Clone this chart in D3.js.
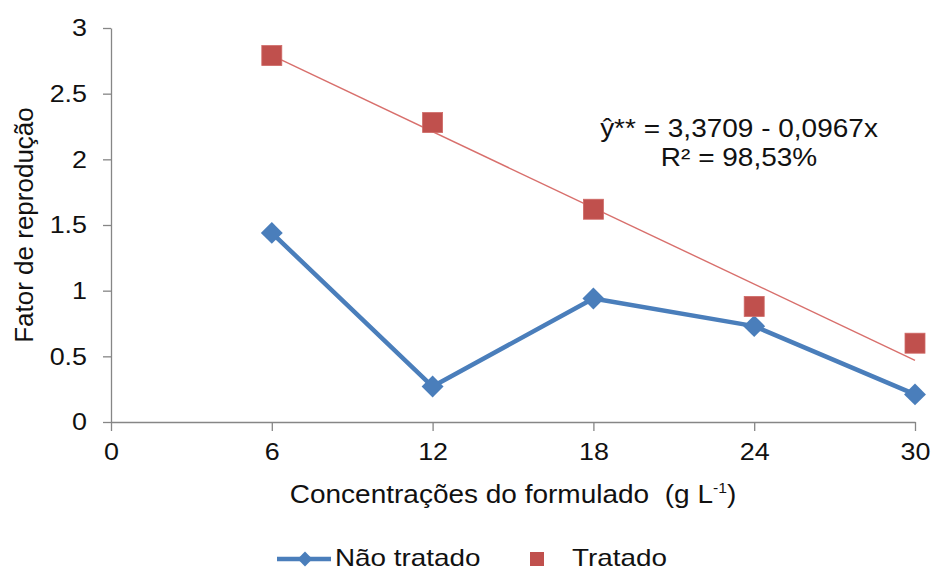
<!DOCTYPE html>
<html>
<head>
<meta charset="utf-8">
<script src="https://cdn.jsdelivr.net/npm/d3@7"></script>
<style>
  html, body { margin: 0; padding: 0; background: #fff; }
  svg text { font-family: "Liberation Sans", Arial, sans-serif; fill: #111; white-space: pre; }
</style>
</head>
<body>
<svg id="chart" width="935" height="572"></svg>
<script>
// Concentrations of the formulation (g L-1)
const concentrations = [6, 12, 18, 24, 30];
// Reproduction factor, untreated
const naoTratado = [1.44, 0.27, 0.94, 0.73, 0.21];
// Reproduction factor, treated
const tratado = [2.79, 2.28, 1.62, 0.88, 0.60];
// Fitted regression for the treated series
const regIntercept = 3.3709;
const regSlope = -0.0967;
const xTicks = [0, 6, 12, 18, 24, 30];
const yTicks = [0, 0.5, 1, 1.5, 2, 2.5, 3];
const yTickLabels = ["0", "0.5", "1", "1.5", "2", "2.5", "3"];
const seriesNames = ["Não tratado", "Tratado"];
const equationLines = ["ŷ** = 3,3709 - 0,0967x", "R² = 98,53%"];

const svg = d3.select("#chart");
const blue = "#4A7EBB";
const red = "#C0504D";
const axisColor = "#868686";
const SX = 1.12; // horizontal glyph stretch

const x = d3.scaleLinear().domain([0, 30]).range([111, 915]);
const y = d3.scaleLinear().domain([0, 3]).range([422, 28]);

function stretch(sel, sx) {
  sel.each(function () {
    const t = d3.select(this);
    const tx = +t.attr("x") || 0;
    const ty = +t.attr("y") || 0;
    t.attr("x", 0).attr("y", 0)
     .attr("transform", `translate(${tx},${ty}) scale(${sx},1)`);
  });
}

// Y axis
const yAxis = svg.append("g")
  .attr("transform", `translate(${x(0)},0)`)
  .call(d3.axisLeft(y).tickValues(yTicks)
    .tickFormat((d, i) => yTickLabels[i])
    .tickSize(8).tickSizeOuter(0).tickPadding(16));
yAxis.select(".domain").attr("stroke", axisColor).attr("stroke-width", 1.3);
yAxis.selectAll(".tick line").attr("stroke", axisColor).attr("stroke-width", 1.3);
yAxis.selectAll(".tick text").attr("font-size", 24).attr("fill", "#111")
  .style("font-family", '"Liberation Sans", Arial, sans-serif');
stretch(yAxis.selectAll(".tick text"), SX);

// X axis
const xAxis = svg.append("g")
  .attr("transform", `translate(0,${y(0)})`)
  .call(d3.axisBottom(x).tickValues(xTicks)
    .tickFormat(d3.format("d"))
    .tickSize(9).tickSizeOuter(0).tickPadding(12));
xAxis.select(".domain").attr("stroke", axisColor).attr("stroke-width", 1.3);
xAxis.selectAll(".tick line").attr("stroke", axisColor).attr("stroke-width", 1.3);
xAxis.selectAll(".tick text").attr("font-size", 24).attr("fill", "#111")
  .style("font-family", '"Liberation Sans", Arial, sans-serif');
stretch(xAxis.selectAll(".tick text"), SX);

// Axis titles
const xTitle = svg.append("text")
  .attr("x", (x(0) + x(30)) / 2).attr("y", 503)
  .attr("text-anchor", "middle").attr("font-size", 25);
xTitle.append("tspan").text("Concentrações do formulado  (g L");
xTitle.append("tspan").attr("font-size", 14).attr("dy", -10).text("-1");
xTitle.append("tspan").attr("dy", 10).text(")");
stretch(xTitle, SX);

svg.append("text")
  .attr("transform", `translate(33,${(y(0) + y(3)) / 2}) rotate(-90)`)
  .attr("text-anchor", "middle").attr("font-size", 26)
  .text("Fator de reprodução");

// Regression line for the treated series
const regX = [concentrations[0], concentrations[concentrations.length - 1]];
svg.append("line")
  .attr("x1", x(regX[0])).attr("y1", y(regIntercept + regSlope * regX[0]))
  .attr("x2", x(regX[1])).attr("y2", y(regIntercept + regSlope * regX[1]))
  .attr("stroke", "#D86F6C").attr("stroke-width", 1.4);

// Untreated series: line with diamond markers
const lineGen = d3.line().x((d, i) => x(concentrations[i])).y(d => y(d));
svg.append("path").datum(naoTratado)
  .attr("d", lineGen).attr("fill", "none")
  .attr("stroke", blue).attr("stroke-width", 4.5).attr("stroke-linejoin", "round");
const diamond = d3.symbol().type(d3.symbolSquare).size(240);
svg.selectAll(".dia").data(naoTratado).join("path")
  .attr("class", "dia")
  .attr("d", diamond)
  .attr("transform", (d, i) => `translate(${x(concentrations[i])},${y(d)}) rotate(45)`)
  .attr("fill", blue);

// Treated series: square markers
const sq = 20;
svg.selectAll(".sq").data(tratado).join("rect")
  .attr("class", "sq")
  .attr("x", (d, i) => x(concentrations[i]) - sq / 2)
  .attr("y", d => y(d) - sq / 2)
  .attr("width", sq).attr("height", sq)
  .attr("fill", red).attr("stroke", "#CF6A67").attr("stroke-width", 0.8);

// Regression equation
equationLines.forEach((t, i) => {
  const e = svg.append("text")
    .attr("x", 739).attr("y", 137 + i * 29)
    .attr("text-anchor", "middle").attr("font-size", 25)
    .text(t);
  stretch(e, SX);
});

// Legend
const lg = svg.append("g");
lg.append("line").attr("x1", 277).attr("x2", 331).attr("y1", 559).attr("y2", 559)
  .attr("stroke", blue).attr("stroke-width", 4.5);
lg.append("path").attr("d", d3.symbol().type(d3.symbolSquare).size(110))
  .attr("transform", "translate(305,559) rotate(45)").attr("fill", blue);
const t1 = lg.append("text").attr("x", 335).attr("y", 566).attr("font-size", 24).text(seriesNames[0]);
stretch(t1, 1.16);
lg.append("rect").attr("x", 530).attr("y", 552).attr("width", 14).attr("height", 14).attr("fill", red);
const t2 = lg.append("text").attr("x", 572).attr("y", 566).attr("font-size", 24).text(seriesNames[1]);
stretch(t2, 1.16);
</script>
</body>
</html>
